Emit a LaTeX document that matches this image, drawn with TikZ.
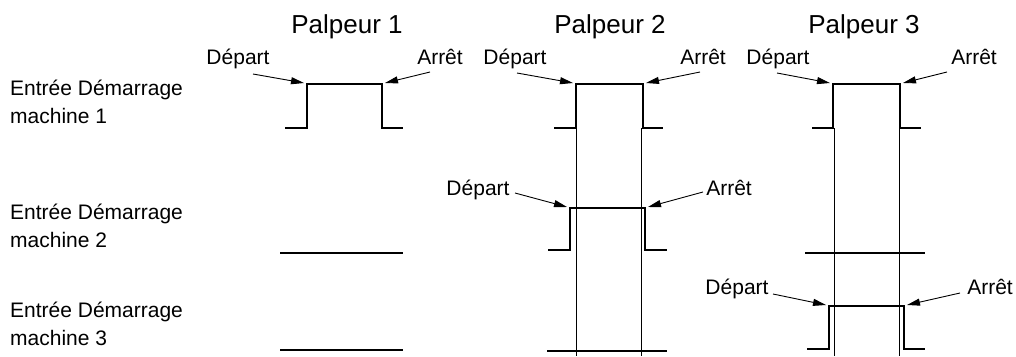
\documentclass[tikz,border=0pt]{standalone}
\usepackage{fontspec}
\setmainfont{Liberation Sans}
\usetikzlibrary{arrows.meta}
\begin{document}
\begin{tikzpicture}[x=1pt,y=-1pt,
  signal/.style={line width=2.7pt, line join=miter},
  guide/.style={line width=0.8pt},
  lbl/.style={font=\fontsize{21}{25}\selectfont, inner sep=0pt, anchor=base},
  title/.style={font=\fontsize{26}{30}\selectfont, inner sep=0pt, anchor=base},
  rowlbl/.style={font=\fontsize{21}{28}\selectfont, align=left, anchor=west, inner sep=0pt},
  pointer/.style={line width=0.9pt, -{Triangle[length=13pt,width=7pt]}}]
\useasboundingbox (0,0) rectangle (1016,356);

% column titles
\node[title] (t1) at (347,33) {Palpeur 1};
\node[title] (t2) at (610,33) {Palpeur 2};
\node[title] (t3) at (864,33) {Palpeur 3};

% row titles
\node[rowlbl] (r1) at (10,102) {Entrée Démarrage\\machine 1};
\node[rowlbl] (r2) at (10,226) {Entrée Démarrage\\machine 2};
\node[rowlbl] (r3) at (10,324) {Entrée Démarrage\\machine 3};

% guide lines below the probe 2 and probe 3 pulses
\draw[guide] (576,128) coordinate (g2a) -- (576,356) coordinate (g2b);
\draw[guide] (641,128) coordinate (g2c) -- (641,356) coordinate (g2d);
\draw[guide] (834,128) coordinate (g3a) -- (834,356) coordinate (g3b);
\draw[guide] (899,128) coordinate (g3c) -- (899,356) coordinate (g3d);

% machine 1
\draw[signal] (285,128) -- (307,128) -- (307,84) coordinate (a1) -- (382,84) coordinate (b1) -- (382,128) -- (403,128);
\draw[signal] (554,128) -- (576,128) -- (576,84) coordinate (a2) -- (643,84) coordinate (b2) -- (643,128) -- (663,128);
\draw[signal] (812,128) -- (833,128) -- (833,84) coordinate (a3) -- (900,84) coordinate (b3) -- (900,128) -- (921,128);

% machine 2
\draw[signal] (280,253) -- (403,253);
\draw[signal] (548,250) -- (570,250) -- (570,208) coordinate (a4) -- (645,208) coordinate (b4) -- (645,250) -- (667,250);
\draw[signal] (805,253) -- (925,253);

% machine 3
\draw[signal] (280,350) -- (403,350);
\draw[signal] (547,351) -- (667,351);
\draw[signal] (807,349) -- (829,349) -- (829,306) coordinate (a5) -- (904,306) coordinate (b5) -- (904,349) -- (925,349);

% start / stop labels
\node[lbl] (d1) at (238,64) {Départ};
\node[lbl] (s1) at (440,64) {Arrêt};
\node[lbl] (d2) at (515,64) {Départ};
\node[lbl] (s2) at (703,64) {Arrêt};
\node[lbl] (d3) at (778,64) {Départ};
\node[lbl] (s3) at (974,64) {Arrêt};
\node[lbl] (d4) at (478,195) {Départ};
\node[lbl] (s4) at (729,195) {Arrêt};
\node[lbl] (d5) at (737,294) {Départ};
\node[lbl] (s5) at (990,294) {Arrêt};

\coordinate (d1s) at (253,74);  \coordinate (d1e) at (304,83);
\coordinate (s1s) at (430,72);  \coordinate (s1e) at (385,83);
\coordinate (d2s) at (517,73);  \coordinate (d2e) at (573,83);
\coordinate (s2s) at (700,72);  \coordinate (s2e) at (646,83);
\coordinate (d3s) at (777,73);  \coordinate (d3e) at (830,83);
\coordinate (s3s) at (947,72);  \coordinate (s3e) at (903,83);
\coordinate (d4s) at (515,193); \coordinate (d4e) at (567,207);
\coordinate (s4s) at (703,192); \coordinate (s4e) at (648,207);
\coordinate (d5s) at (773,294); \coordinate (d5e) at (826,305);
\coordinate (s5s) at (960,293); \coordinate (s5e) at (907,305);

\foreach \p in {d1,s1,d2,s2,d3,s3,d4,s4,d5,s5}
  \draw[pointer] (\p s) -- (\p e);
\end{tikzpicture}
\end{document}
